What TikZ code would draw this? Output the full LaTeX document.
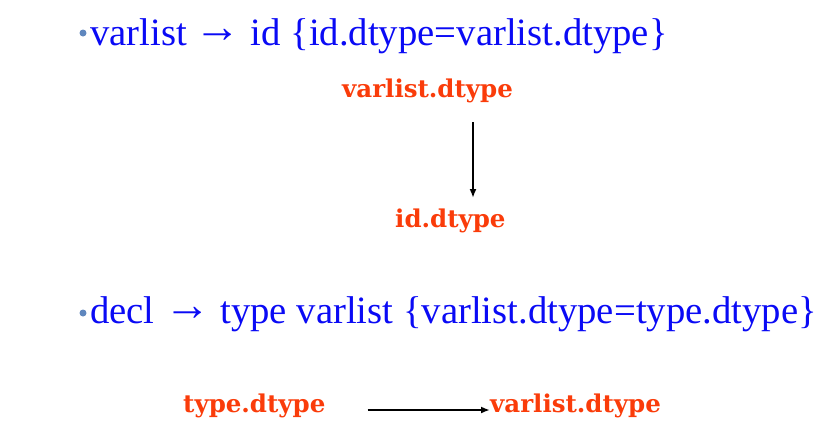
\documentclass[tikz,border=0pt]{standalone}
\usepackage{fontspec}
\setmainfont{Liberation Serif}
\newfontfamily\attrfont{DejaVu Serif}
\usetikzlibrary{positioning}
\usetikzlibrary{arrows.meta}
\definecolor{rulecol}{RGB}{10,10,245}
\definecolor{attrcol}{RGB}{250,60,10}
\definecolor{dotcol}{RGB}{95,135,190}
\newcommand{\prodto}{\raisebox{3pt}{\scalebox{1.2}{→}}}

\begin{document}
\begin{tikzpicture}[x=1pt,y=-1pt]
            \useasboundingbox (0,0) rectangle (839,445);
            \tikzset{rule/.style={inner sep=0pt, anchor=base west, text=rulecol, font=\fontsize{38.7}{44}\selectfont},
                     attr/.style={inner sep=0pt, anchor=base west, text=attrcol, font=\attrfont\bfseries\fontsize{24.5}{28}\selectfont},
                     dot/.style={circle, fill=dotcol, inner sep=0pt, minimum size=7pt},
                     flow/.style={-{Latex[length=9pt,width=7pt]}, line width=1.8pt}}
            % first rule
            \node[dot] (b1) at (83,33) {};
            \node[rule] (r1) at (90,45) {varlist\hspace{-2pt} \prodto{} id \{id.dtype=varlist.dtype\}};
            \node[attr] (vd) at (342,97) {varlist.dtype};
            \node[attr] (idd) at (395,227) {id.dtype};
            \draw[flow] ([xshift=131pt,yshift=-25pt]vd.base west) -- ([xshift=78pt,yshift=29pt]idd.base west);
            % second rule
            \node[dot] (b2) at (83,313) {};
            \node[rule] (r2) at (90,323) {decl \prodto{} type varlist \{varlist.dtype=type.dtype\}};
            \node[attr] (td) at (183,412) {type.dtype};
            \node[attr] (vl) at (490,412) {varlist.dtype};
            \draw[flow] ([xshift=42pt,yshift=2pt]td.base east) -- ([yshift=2pt]vl.base west);
        \end{tikzpicture}
\end{document}
